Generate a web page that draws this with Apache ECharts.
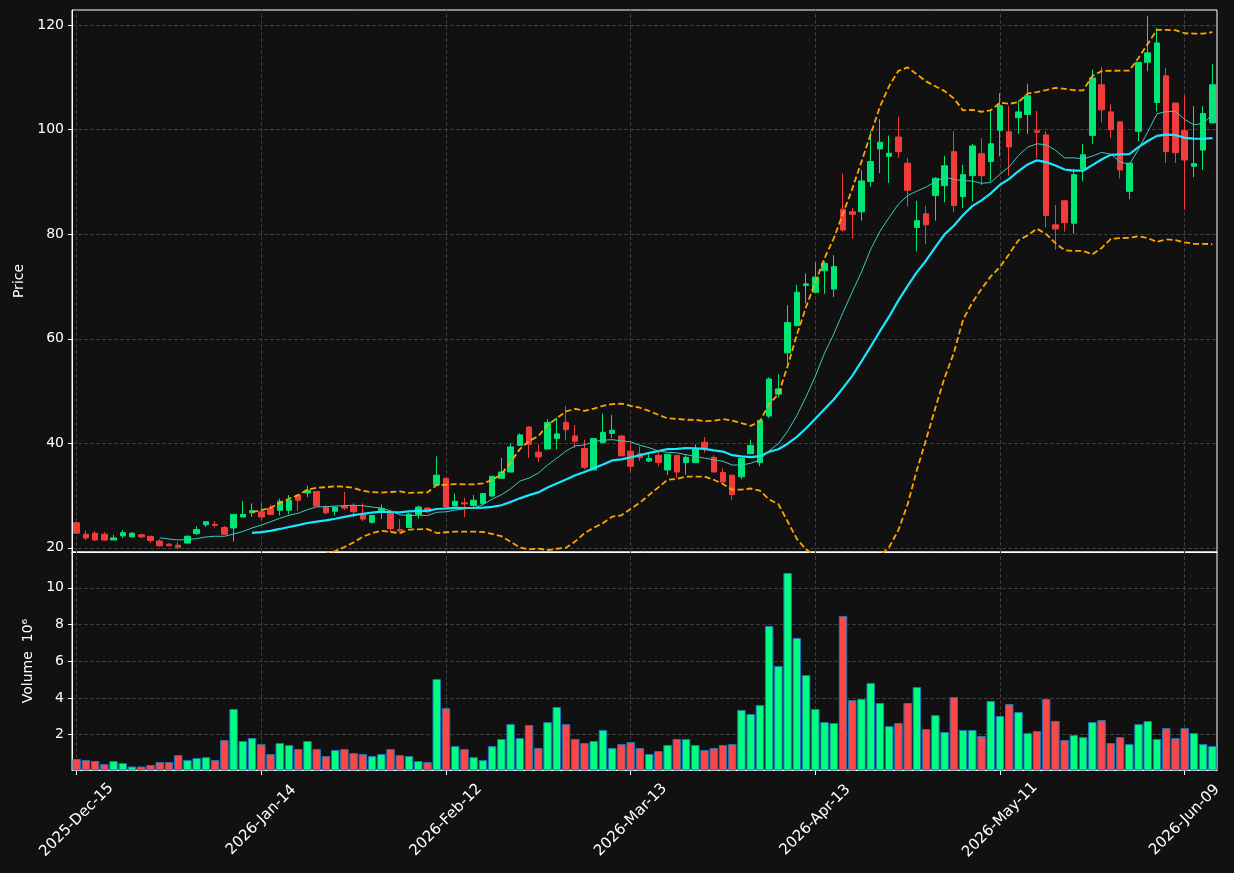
<!DOCTYPE html>
<html lang="en">
<head>
    <meta http-equiv="Content-Type" content="text/html; charset=utf-8"/>
    <title>Price and volume</title>
    <script type="text/javascript" src="https://cdn.jsdelivr.net/npm/echarts@6/dist/echarts.min.js"></script>
    <style>
        html, body {margin: 0; padding: 0; background: #111111;}
        #chart {width: 1234px; height: 873px;}
    </style>
</head>
<body>
<div id="chart"></div>
<script type="text/javascript">
    // trading days (NYSE calendar)
    var dates = [
        '2025-Dec-15','2025-Dec-16','2025-Dec-17','2025-Dec-18','2025-Dec-19','2025-Dec-22','2025-Dec-23','2025-Dec-24','2025-Dec-26','2025-Dec-29',
        '2025-Dec-30','2025-Dec-31','2026-Jan-02','2026-Jan-05','2026-Jan-06','2026-Jan-07','2026-Jan-08','2026-Jan-09','2026-Jan-12','2026-Jan-13',
        '2026-Jan-14','2026-Jan-15','2026-Jan-16','2026-Jan-20','2026-Jan-21','2026-Jan-22','2026-Jan-23','2026-Jan-26','2026-Jan-27','2026-Jan-28',
        '2026-Jan-29','2026-Jan-30','2026-Feb-02','2026-Feb-03','2026-Feb-04','2026-Feb-05','2026-Feb-06','2026-Feb-09','2026-Feb-10','2026-Feb-11',
        '2026-Feb-12','2026-Feb-13','2026-Feb-17','2026-Feb-18','2026-Feb-19','2026-Feb-20','2026-Feb-23','2026-Feb-24','2026-Feb-25','2026-Feb-26',
        '2026-Feb-27','2026-Mar-02','2026-Mar-03','2026-Mar-04','2026-Mar-05','2026-Mar-06','2026-Mar-09','2026-Mar-10','2026-Mar-11','2026-Mar-12',
        '2026-Mar-13','2026-Mar-16','2026-Mar-17','2026-Mar-18','2026-Mar-19','2026-Mar-20','2026-Mar-23','2026-Mar-24','2026-Mar-25','2026-Mar-26',
        '2026-Mar-27','2026-Mar-30','2026-Mar-31','2026-Apr-01','2026-Apr-02','2026-Apr-06','2026-Apr-07','2026-Apr-08','2026-Apr-09','2026-Apr-10',
        '2026-Apr-13','2026-Apr-14','2026-Apr-15','2026-Apr-16','2026-Apr-17','2026-Apr-20','2026-Apr-21','2026-Apr-22','2026-Apr-23','2026-Apr-24',
        '2026-Apr-27','2026-Apr-28','2026-Apr-29','2026-Apr-30','2026-May-01','2026-May-04','2026-May-05','2026-May-06','2026-May-07','2026-May-08',
        '2026-May-11','2026-May-12','2026-May-13','2026-May-14','2026-May-15','2026-May-18','2026-May-19','2026-May-20','2026-May-21','2026-May-22',
        '2026-May-26','2026-May-27','2026-May-28','2026-May-29','2026-Jun-01','2026-Jun-02','2026-Jun-03','2026-Jun-04','2026-Jun-05','2026-Jun-08',
        '2026-Jun-09','2026-Jun-10','2026-Jun-11','2026-Jun-12'
    ];

    var opens = [
        24.8, 22.6, 22.8, 22.6, 21.5, 22.3, 22.1, 22.5, 22.2, 21.3,
        20.7, 20.5, 20.9, 22.7, 24.4, 24.5, 23.9, 23.8, 25.9, 26.7,
        26.9, 27.6, 27.2, 27.2, 30.1, 30.5, 30.8, 27.8, 27.0, 28.0,
        28.0, 26.5, 24.9, 27.1, 26.9, 23.5, 23.9, 26.4, 27.6, 32.0,
        33.3, 28.0, 28.6, 28.1, 28.5, 29.9, 33.3, 34.5, 39.6, 43.1,
        38.3, 38.9, 40.9, 44.0, 41.4, 39.0, 34.9, 40.1, 41.9, 41.4,
        38.5, 38.0, 36.6, 37.7, 34.9, 37.7, 36.3, 36.3, 40.2, 37.3,
        34.4, 33.9, 33.6, 38.0, 36.3, 45.2, 49.4, 57.3, 62.5, 70.2,
        68.9, 73.0, 69.5, 84.8, 84.3, 84.3, 90.1, 96.3, 94.9, 98.6,
        93.6, 81.3, 83.9, 87.4, 89.3, 95.8, 87.2, 91.2, 95.4, 93.9,
        99.9, 99.6, 102.3, 102.9, 99.8, 99.0, 81.8, 86.4, 82.1, 92.5,
        98.9, 108.6, 103.4, 101.5, 88.2, 99.7, 112.9, 105.2, 110.3, 105.1,
        99.8, 93.0, 96.1, 101.3
    ];
    var highs = [
        24.9, 23.3, 23.2, 23.0, 22.5, 23.4, 23.0, 22.7, 22.3, 21.6,
        20.9, 21.1, 22.4, 24.1, 25.1, 25.1, 24.2, 26.4, 28.9, 28.5,
        28.5, 28.3, 29.4, 30.1, 30.1, 31.9, 30.8, 28.1, 27.8, 30.7,
        28.5, 28.5, 26.2, 28.3, 27.2, 25.5, 26.7, 28.1, 27.7, 37.5,
        33.3, 30.4, 29.6, 30.1, 30.4, 33.7, 37.2, 40.0, 41.9, 43.3,
        39.8, 44.6, 44.9, 47.1, 43.5, 40.7, 40.9, 45.7, 45.4, 41.6,
        40.1, 39.4, 38.0, 38.5, 37.9, 37.7, 37.7, 39.8, 41.2, 37.7,
        35.2, 33.9, 37.1, 40.7, 44.4, 52.6, 53.2, 66.4, 70.3, 72.5,
        74.6, 74.8, 76.0, 91.6, 85.0, 92.3, 99.7, 102.0, 98.9, 102.5,
        94.6, 86.4, 85.4, 90.9, 95.0, 99.7, 93.3, 97.3, 98.4, 103.8,
        107.0, 104.6, 105.6, 108.8, 103.6, 99.7, 85.6, 86.6, 92.5, 97.3,
        111.5, 112.0, 104.9, 101.5, 93.6, 112.9, 121.8, 119.5, 111.8, 105.1,
        106.6, 104.5, 104.5, 112.6
    ];
    var lows = [
        22.7, 21.5, 21.3, 21.3, 21.5, 21.9, 22.0, 21.8, 20.9, 20.2,
        20.3, 19.8, 20.8, 22.5, 24.0, 23.9, 22.5, 21.2, 25.9, 25.9,
        25.3, 26.2, 26.2, 26.4, 27.1, 29.7, 28.0, 26.4, 26.2, 27.2,
        25.8, 25.1, 24.6, 25.5, 23.0, 23.0, 23.9, 25.6, 26.6, 32.0,
        27.8, 28.0, 25.9, 27.8, 28.1, 29.8, 33.3, 34.5, 39.6, 37.2,
        36.4, 38.9, 38.8, 40.6, 39.1, 35.0, 34.9, 40.1, 41.0, 37.6,
        34.5, 36.6, 36.4, 35.6, 33.9, 33.4, 34.0, 36.2, 38.2, 34.5,
        32.6, 29.2, 33.1, 38.0, 35.6, 44.8, 48.8, 55.4, 62.5, 66.8,
        68.7, 68.6, 68.0, 80.5, 79.2, 82.6, 89.1, 91.7, 89.8, 94.6,
        85.3, 76.7, 78.1, 82.6, 86.1, 84.2, 85.0, 86.3, 89.4, 90.1,
        94.9, 91.2, 99.2, 99.2, 94.6, 81.3, 77.0, 80.5, 80.1, 90.1,
        97.3, 101.4, 98.4, 90.7, 86.7, 97.8, 111.2, 103.5, 93.6, 93.6,
        84.7, 90.9, 92.3, 101.2
    ];
    var closes = [
        22.8, 21.9, 21.5, 21.5, 21.9, 22.9, 22.8, 22.1, 21.4, 20.4,
        20.4, 20.1, 22.2, 23.5, 25.0, 24.3, 22.6, 26.4, 26.4, 27.1,
        25.9, 26.4, 28.9, 29.1, 29.1, 31.0, 28.0, 26.7, 27.8, 27.6,
        26.9, 25.5, 26.2, 27.5, 23.7, 23.2, 26.4, 27.8, 26.9, 33.9,
        27.8, 28.9, 28.4, 29.1, 30.4, 33.7, 34.5, 39.3, 41.6, 39.8,
        37.4, 44.0, 41.8, 42.6, 40.4, 35.4, 40.9, 42.1, 42.5, 37.6,
        35.6, 37.3, 37.1, 36.3, 37.9, 34.5, 37.3, 39.0, 39.0, 34.5,
        32.6, 30.2, 37.1, 39.6, 44.4, 52.3, 50.4, 63.1, 68.9, 70.5,
        71.8, 74.4, 73.8, 80.8, 83.8, 90.2, 93.9, 97.6, 95.5, 95.8,
        88.4, 82.6, 81.8, 90.7, 93.1, 85.5, 91.4, 96.9, 91.2, 97.3,
        104.6, 96.7, 103.4, 106.5, 99.5, 83.6, 81.0, 82.2, 91.4, 95.2,
        109.9, 103.8, 100.0, 92.3, 93.6, 112.9, 114.7, 116.6, 95.8, 95.6,
        94.2, 93.5, 103.1, 108.6
    ];
    // volume in millions
    var volumes = [
        0.68, 0.62, 0.57, 0.40, 0.57, 0.46, 0.27, 0.27, 0.35, 0.51,
        0.51, 0.89, 0.62, 0.73, 0.78, 0.62, 1.71, 3.40, 1.66, 1.82,
        1.49, 0.95, 1.55, 1.44, 1.22, 1.66, 1.22, 0.84, 1.17, 1.22,
        1.00, 0.95, 0.84, 0.95, 1.22, 0.89, 0.84, 0.57, 0.51, 5.03,
        3.45, 1.38, 1.22, 0.78, 0.62, 1.38, 1.77, 2.58, 1.82, 2.53,
        1.28, 2.69, 3.51, 2.58, 1.77, 1.55, 1.66, 2.26, 1.28, 1.49,
        1.60, 1.28, 0.95, 1.11, 1.44, 1.77, 1.77, 1.44, 1.17, 1.28,
        1.44, 1.49, 3.35, 3.13, 3.62, 7.92, 5.74, 10.81, 7.27, 5.25,
        3.40, 2.69, 2.64, 8.47, 3.89, 3.95, 4.82, 3.73, 2.47, 2.64,
        3.73, 4.60, 2.31, 3.07, 2.15, 4.05, 2.26, 2.26, 1.93, 3.84,
        3.02, 3.67, 3.24, 2.09, 2.20, 3.95, 2.75, 1.71, 1.98, 1.87,
        2.69, 2.80, 1.55, 1.87, 1.49, 2.58, 2.75, 1.77, 2.36, 1.82,
        2.36, 2.09, 1.49, 1.38
    ];
    var priceTicks = [20, 40, 60, 80, 100, 120];
    var volumeTicks = [2, 4, 6, 8, 10];
    var dateStep = 20;

    var upColor = '#00e676', downColor = '#f23c3c';
    var volUp = '#00ff80', volDown = '#ff4646';
    var gridLine = {color: '#3c3c3c', width: 1, type: [4, 2]};
    var font = 'DejaVu Sans';

    // simple moving average of closes
    function movingAverage(values, n) {
        var out = [];
        for (var i = 0; i < values.length; i++) {
            if (i < n - 1) { out.push('-'); continue; }
            var s = 0;
            for (var j = i - n + 1; j <= i; j++) s += values[j];
            out.push(+(s / n).toFixed(3));
        }
        return out;
    }
    // bollinger band: mean +/- k * std over n closes
    function bollinger(values, n, k) {
        var upper = [], lower = [];
        for (var i = 0; i < values.length; i++) {
            if (i < n - 1) { upper.push('-'); lower.push('-'); continue; }
            var s = 0, q = 0;
            for (var j = i - n + 1; j <= i; j++) s += values[j];
            var m = s / n;
            for (var j2 = i - n + 1; j2 <= i; j2++) q += (values[j2] - m) * (values[j2] - m);
            var sd = Math.sqrt(q / n);
            upper.push(+(m + k * sd).toFixed(3));
            lower.push(+(m - k * sd).toFixed(3));
        }
        return {upper: upper, lower: lower};
    }

    var candles = dates.map(function (d, i) {
        return [opens[i], closes[i], lows[i], highs[i]];
    });
    var ma10 = movingAverage(closes, 10);
    var ma20 = movingAverage(closes, 20);
    var band = bollinger(closes, 20, 2);

    // vertical grid lines at the labelled dates
    var dateLines = dates.filter(function (d, i) { return i % dateStep === 0; })
        .map(function (d) { return {xAxis: d}; });
    function vLines() {
        return {
            silent: true,
            z: 1,
            symbol: ['none', 'none'],
            label: {show: false},
            lineStyle: gridLine,
            animation: false,
            data: dateLines
        };
    }

    var myChart = echarts.init(document.getElementById('chart'), null, {renderer: 'canvas'});
    var option = {
        backgroundColor: '#111111',
        animation: false,
        textStyle: {fontFamily: font, color: '#ffffff'},
        grid: [
            {left: 72, top: 10, width: 1145, height: 542, show: true,
                borderColor: '#ffffff', borderWidth: 1, backgroundColor: '#111111'},
            {left: 72, top: 552, width: 1145, height: 218, show: true,
                borderColor: '#ffffff', borderWidth: 1, backgroundColor: '#111111'}
        ],
        xAxis: [
            {
                type: 'category', gridIndex: 0, data: dates, boundaryGap: true,
                axisLine: {lineStyle: {color: '#ffffff'}},
                axisTick: {show: false},
                axisLabel: {show: false},
                splitLine: {show: false}
            },
            {
                type: 'category', gridIndex: 1, data: dates, boundaryGap: true,
                axisLine: {lineStyle: {color: '#ffffff'}},
                axisTick: {show: true, interval: dateStep - 1, alignWithLabel: true, length: 5,
                    lineStyle: {color: '#ffffff'}},
                axisLabel: {interval: dateStep - 1, rotate: 45, color: '#ffffff',
                    align: 'center', verticalAlign: 'middle',
                    fontFamily: font, fontSize: 15, margin: 50},
                splitLine: {show: false}
            }
        ],
        yAxis: [
            {
                type: 'value', gridIndex: 0, min: 19.2, max: 122.9,
                name: 'Price', nameLocation: 'middle', nameGap: 46,
                nameTextStyle: {color: '#ffffff', fontFamily: font, fontSize: 14},
                axisLine: {show: true, lineStyle: {color: '#ffffff'}},
                axisTick: {show: true, length: 4, customValues: priceTicks, lineStyle: {color: '#ffffff'}},
                axisLabel: {customValues: priceTicks, color: '#ffffff', fontFamily: font, fontSize: 14, margin: 8},
                splitLine: {show: true, lineStyle: gridLine}
            },
            {
                type: 'value', gridIndex: 1, min: 0.08, max: 11.95,
                name: 'Volume  10\u2076', nameLocation: 'middle', nameGap: 37,
                nameTextStyle: {color: '#ffffff', fontFamily: font, fontSize: 14},
                axisLine: {show: true, lineStyle: {color: '#ffffff'}},
                axisTick: {show: true, length: 4, customValues: volumeTicks, lineStyle: {color: '#ffffff'}},
                axisLabel: {customValues: volumeTicks, color: '#ffffff', fontFamily: font, fontSize: 14, margin: 8},
                splitLine: {show: true, lineStyle: gridLine}
            }
        ],
        series: [
            {
                name: 'Price', type: 'candlestick', xAxisIndex: 0, yAxisIndex: 0,
                data: candles, barWidth: 6,
                itemStyle: {color: upColor, color0: downColor, borderColor: upColor,
                    borderColor0: downColor, borderWidth: 1},
                markLine: vLines()
            },
            {
                name: 'MA20', type: 'line', xAxisIndex: 0, yAxisIndex: 0, data: ma20,
                symbol: 'none', clip: true, lineStyle: {color: '#16e8ff', width: 2.2}, z: 3
            },
            {
                name: 'MA10', type: 'line', xAxisIndex: 0, yAxisIndex: 0, data: ma10,
                symbol: 'none', clip: true, lineStyle: {color: '#3fc8c0', width: 1}, z: 3
            },
            {
                name: 'Upper', type: 'line', xAxisIndex: 0, yAxisIndex: 0, data: band.upper,
                symbol: 'none', clip: true, lineStyle: {color: '#ffa500', width: 1.8, type: [6, 3]}, z: 3
            },
            {
                name: 'Lower', type: 'line', xAxisIndex: 0, yAxisIndex: 0, data: band.lower,
                symbol: 'none', clip: true, lineStyle: {color: '#ffa500', width: 1.8, type: [6, 3]}, z: 3
            },
            {
                name: 'Volume', type: 'bar', xAxisIndex: 1, yAxisIndex: 1, data: volumes,
                barCategoryGap: '8%',
                itemStyle: {
                    color: function (p) {
                        return closes[p.dataIndex] >= opens[p.dataIndex] ? volUp : volDown;
                    },
                    borderColor: '#1f77b4', borderWidth: 1
                },
                markLine: vLines()
            }
        ]
    };
    myChart.setOption(option);
</script>
</body>
</html>
